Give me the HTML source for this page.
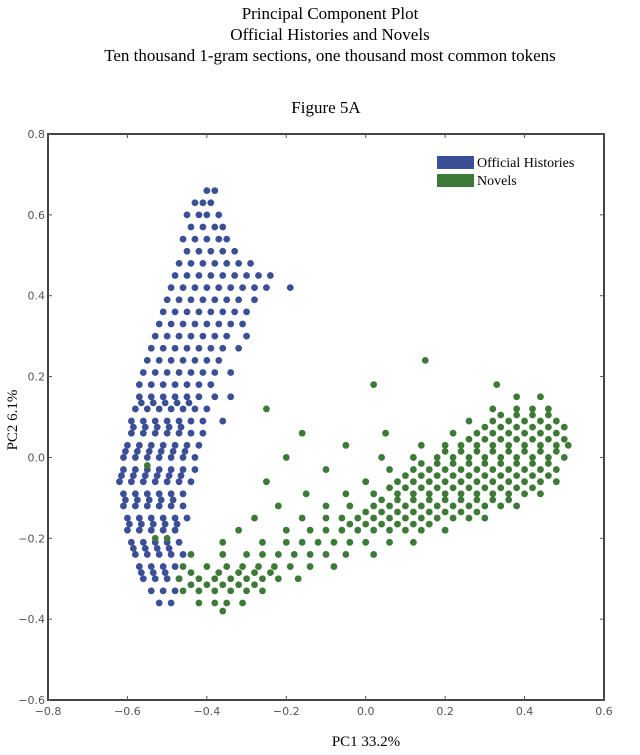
<!DOCTYPE html>
<html><head><meta charset="utf-8"><style>
body{margin:0;background:#fff;width:640px;height:755px;overflow:hidden}
svg{display:block}
.t{font-family:"Liberation Serif",serif;fill:#000}
.tk{font-family:"DejaVu Sans","Liberation Sans",sans-serif;font-size:11px;fill:#555}
</style></head><body>
<svg id="chart" width="640" height="755">
<text class="t" x="330" y="19" font-size="17" text-anchor="middle">Principal Component Plot</text>
<text class="t" x="330" y="40" font-size="17" text-anchor="middle">Official Histories and Novels</text>
<text class="t" x="330" y="61" font-size="17" text-anchor="middle">Ten thousand 1-gram sections, one thousand most common tokens</text>
<text class="t" x="326" y="113" font-size="17" text-anchor="middle">Figure 5A</text>
<text class="t" x="366" y="746" font-size="15" text-anchor="middle">PC1 33.2%</text>
<text class="t" x="0" y="0" font-size="15" text-anchor="middle" transform="translate(17,420) rotate(-90)">PC2 6.1%</text>
<g id="marks"></g>
<g id="axes"></g>
<g>
<rect x="437" y="156" width="37" height="13" fill="#3a4f96"/>
<text class="t" x="477" y="167" font-size="14">Official Histories</text>
<rect x="437" y="174" width="37" height="13" fill="#3e7a37"/>
<text class="t" x="477" y="185" font-size="14">Novels</text>
</g>
</svg>
<script>
const xTicks=[-0.8,-0.6,-0.4,-0.2,0.0,0.2,0.4,0.6];
const yTicks=[-0.6,-0.4,-0.2,0.0,0.2,0.4,0.6,0.8];
const blueRows=[
[0.66,[-0.40,-0.38]],[0.63,[-0.43,-0.41,-0.39]],[0.60,[-0.45,-0.42,-0.40,-0.37]],
[0.57,[-0.44,-0.41,-0.38,-0.36]],[0.54,[-0.46,-0.43,-0.40,-0.37,-0.35]],
[0.51,[-0.45,-0.42,-0.39,-0.36,-0.33]],[0.48,[-0.47,-0.44,-0.41,-0.38,-0.35,-0.32,-0.29]],
[0.45,[-0.48,-0.45,-0.42,-0.39,-0.36,-0.33,-0.30,-0.27,-0.24]],
[0.42,[-0.49,-0.46,-0.43,-0.40,-0.37,-0.34,-0.31,-0.28,-0.25,-0.19]],
[0.39,[-0.50,-0.47,-0.44,-0.41,-0.38,-0.35,-0.32,-0.28]],
[0.36,[-0.51,-0.48,-0.45,-0.42,-0.39,-0.36,-0.33,-0.30]],
[0.33,[-0.52,-0.49,-0.46,-0.43,-0.40,-0.37,-0.34,-0.31]],
[0.30,[-0.53,-0.50,-0.47,-0.44,-0.41,-0.38,-0.35,-0.30]],
[0.27,[-0.54,-0.51,-0.48,-0.45,-0.42,-0.39,-0.36,-0.32]],
[0.24,[-0.55,-0.52,-0.49,-0.46,-0.43,-0.40,-0.37]],
[0.21,[-0.56,-0.53,-0.50,-0.47,-0.44,-0.41,-0.38,-0.34]],
[0.18,[-0.57,-0.54,-0.51,-0.48,-0.45,-0.42,-0.39]],
[0.15,[-0.57,-0.54,-0.51,-0.48,-0.45,-0.42,-0.38,-0.34]],
[0.12,[-0.58,-0.55,-0.52,-0.49,-0.46,-0.43,-0.40]],
[0.09,[-0.59,-0.56,-0.53,-0.50,-0.47,-0.44,-0.41,-0.36]],
[0.06,[-0.59,-0.56,-0.53,-0.50,-0.47,-0.44,-0.41]],
[0.03,[-0.60,-0.57,-0.54,-0.51,-0.48,-0.45,-0.42]],
[0.00,[-0.61,-0.58,-0.55,-0.52,-0.49,-0.46,-0.43]],
[-0.03,[-0.61,-0.58,-0.55,-0.52,-0.49,-0.46,-0.43]],
[-0.06,[-0.62,-0.59,-0.56,-0.53,-0.50,-0.47,-0.44]],
[-0.09,[-0.61,-0.58,-0.55,-0.52,-0.49,-0.46]],
[-0.12,[-0.61,-0.58,-0.55,-0.52,-0.49,-0.46]],
[-0.15,[-0.60,-0.57,-0.54,-0.51,-0.48,-0.45]],
[-0.18,[-0.60,-0.57,-0.54,-0.51,-0.48]],
[-0.21,[-0.59,-0.56,-0.53,-0.50,-0.47]],
[-0.24,[-0.58,-0.55,-0.52,-0.49,-0.46]],
[-0.27,[-0.57,-0.54,-0.51,-0.48]],
[-0.30,[-0.56,-0.53,-0.50,-0.47]],
[-0.33,[-0.54,-0.51,-0.48]],[-0.36,[-0.52,-0.49]],
[0.135,[-0.565,-0.535,-0.505,-0.475,-0.445]],
[0.075,[-0.585,-0.555,-0.525,-0.495,-0.465]],
[0.015,[-0.605,-0.575,-0.545,-0.515,-0.485,-0.455]],
[-0.045,[-0.615,-0.585,-0.555,-0.525,-0.495,-0.465]],
[-0.105,[-0.605,-0.575,-0.545,-0.515,-0.485]],
[-0.165,[-0.595,-0.565,-0.535,-0.505,-0.475]],
[-0.225,[-0.585,-0.555,-0.525,-0.495]],
[-0.285,[-0.565,-0.535,-0.505]]];
const greenRows=[
[0.24,[0.15]],[0.18,[0.02,0.33]],[0.15,[0.38,0.44]],
[0.12,[-0.25,0.32,0.38,0.42,0.46]],[0.09,[0.26,0.32,0.36,0.40,0.44,0.48]],
[0.06,[-0.16,0.05,0.22,0.28,0.32,0.36,0.40,0.44,0.48]],
[0.03,[-0.05,0.14,0.20,0.24,0.28,0.32,0.36,0.40,0.44,0.48,0.51]],
[0.00,[-0.20,0.04,0.12,0.18,0.22,0.26,0.30,0.34,0.38,0.42,0.46,0.50]],
[-0.03,[-0.10,0.06,0.12,0.16,0.20,0.24,0.28,0.32,0.36,0.40,0.44,0.48]],
[-0.06,[-0.25,0.00,0.08,0.12,0.16,0.20,0.24,0.28,0.32,0.36,0.40,0.44,0.48]],
[-0.09,[-0.15,-0.05,0.02,0.08,0.12,0.16,0.20,0.24,0.28,0.32,0.36,0.40,0.44]],
[-0.12,[-0.22,-0.10,-0.04,0.02,0.06,0.10,0.14,0.18,0.22,0.26,0.30,0.34,0.38]],
[-0.15,[-0.28,-0.16,-0.10,-0.06,-0.02,0.02,0.06,0.10,0.14,0.18,0.22,0.26,0.30]],
[-0.18,[-0.32,-0.20,-0.14,-0.10,-0.06,-0.02,0.02,0.06,0.10,0.14,0.20]],
[-0.21,[-0.36,-0.26,-0.20,-0.16,-0.12,-0.08,-0.04,0.00,0.06,0.12]],
[-0.24,[-0.44,-0.36,-0.30,-0.26,-0.22,-0.18,-0.14,-0.10,-0.05,0.02]],
[-0.27,[-0.46,-0.40,-0.35,-0.31,-0.27,-0.23,-0.19,-0.14,-0.08]],
[-0.30,[-0.47,-0.42,-0.38,-0.34,-0.30,-0.26,-0.22,-0.17]],
[-0.33,[-0.46,-0.42,-0.38,-0.34,-0.30,-0.26]],
[-0.36,[-0.42,-0.38,-0.35,-0.31]],[-0.38,[-0.36]],
[-0.20,[-0.53,-0.50]],[-0.02,[-0.55]],
[0.105,[0.34,0.38,0.42,0.46]],
[0.075,[0.30,0.34,0.38,0.42,0.46,0.50]],
[0.045,[0.26,0.30,0.34,0.38,0.42,0.46,0.50]],
[0.015,[0.20,0.24,0.28,0.32,0.36,0.40,0.44,0.48]],
[-0.015,[0.14,0.18,0.22,0.26,0.30,0.34,0.38,0.42,0.46]],
[-0.045,[0.10,0.14,0.18,0.22,0.26,0.30,0.34,0.38,0.42,0.46]],
[-0.075,[0.06,0.10,0.14,0.18,0.22,0.26,0.30,0.34,0.38,0.42]],
[-0.105,[0.04,0.08,0.12,0.16,0.20,0.24,0.28,0.32,0.36]],
[-0.135,[0.00,0.04,0.08,0.12,0.16,0.20,0.24,0.28]],
[-0.165,[-0.04,0.00,0.04,0.08,0.12,0.16]],
[-0.285,[-0.44,-0.37,-0.32,-0.28,-0.24]],
[-0.315,[-0.44,-0.40,-0.36,-0.32,-0.28]]];
const L=48,R=604,T=134,B=700,xMin=-0.8,xMax=0.6,yMin=-0.6,yMax=0.8;
function sx(v){return L+(v-xMin)/(xMax-xMin)*(R-L);}
function sy(v){return B-(v-yMin)/(yMax-yMin)*(B-T);}
const NS='http://www.w3.org/2000/svg';
const marks=document.getElementById('marks');
function draw(rows,color,name){
  rows.forEach(([y,xs])=>xs.forEach(x=>{
    const c=document.createElementNS(NS,'circle');
    c.setAttribute('cx',sx(x));c.setAttribute('cy',sy(y));c.setAttribute('r',3.4);
    c.setAttribute('fill',color);
    
    
    marks.appendChild(c);
  }));
}
draw(blueRows,'#3a4f96','point-official-histories');
draw(greenRows,'#3e7a37','point-novels');
const axes=document.getElementById('axes');
const fr=document.createElementNS(NS,'rect');
fr.setAttribute('x',L);fr.setAttribute('y',T);fr.setAttribute('width',R-L);fr.setAttribute('height',B-T);
fr.setAttribute('fill','none');fr.setAttribute('stroke','#444');fr.setAttribute('stroke-width','2');


axes.appendChild(fr);
function line(x1,y1,x2,y2){const l=document.createElementNS(NS,'line');
l.setAttribute('x1',x1);l.setAttribute('y1',y1);l.setAttribute('x2',x2);l.setAttribute('y2',y2);
l.setAttribute('stroke','#555');l.setAttribute('stroke-width','1');


axes.appendChild(l);}
xTicks.forEach(v=>{const x=sx(v);line(x,B,x,B-4);line(x,T,x,T+4);
  const t=document.createElementNS(NS,'text');t.setAttribute('class','tk');
  t.setAttribute('x',x);t.setAttribute('y',B+15);t.setAttribute('text-anchor','middle');
  t.textContent=(v<0?'\u2212':'')+Math.abs(v).toFixed(1);
  
  
  axes.appendChild(t);});
yTicks.forEach(v=>{const y=sy(v);line(L,y,L+4,y);line(R,y,R-4,y);
  const t=document.createElementNS(NS,'text');t.setAttribute('class','tk');
  t.setAttribute('x',L-3);t.setAttribute('y',y+4);t.setAttribute('text-anchor','end');
  t.textContent=(v<0?'\u2212':'')+Math.abs(v).toFixed(1);
  
  
  axes.appendChild(t);});
</script>
</body></html>
